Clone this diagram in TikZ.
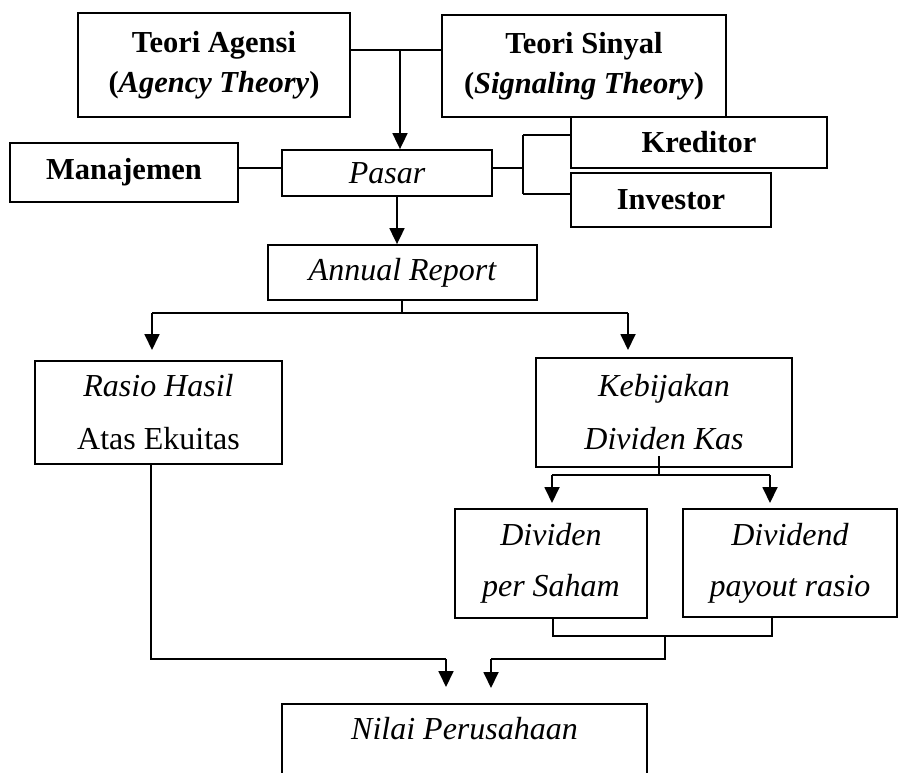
\documentclass[tikz,border=0pt]{standalone}
\usepackage{fontspec}
\setmainfont{Liberation Serif}
\usetikzlibrary{arrows.meta}
\newcommand{\fsB}{\fontsize{30.5}{40}\selectfont}
\newcommand{\fsI}{\fontsize{32}{53}\selectfont}
\begin{document}
\begin{tikzpicture}[x=1pt,y=-1pt,
  box/.style 2 args={draw, line width=1.8pt, inner sep=0pt, align=center,
    minimum width=#1, minimum height=#2},
  conn/.style={line width=1.8pt},
  arr/.style={line width=1.8pt, -{Triangle[length=16pt,width=15pt]}},
  bld/.style={font=\fsB\bfseries},
  itl/.style={font=\fsI\itshape}]
\useasboundingbox (0,0) rectangle (899,772);
\clip (0,0) rectangle (899,772);
% nodes
\node[box={272}{104}, bld] (agensi) at (214,65) {Teori Agensi\\(\textit{Agency Theory})};
\node[box={284}{102}, bld] (sinyal) at (584,66) {Teori Sinyal\\(\textit{Signaling Theory})};
\node[box={228}{59}, bld] (manajemen) at (124,172.5) {Manajemen};
\node[box={210}{46}, itl] (pasar) at (387,173) {Pasar};
\node[box={256}{51}, bld] (kreditor) at (699,142.5) {Kreditor};
\node[box={200}{54}, bld] (investor) at (671,200) {Investor};
\node[box={269}{55}, itl] (annual) at (402.5,272.5) {Annual Report};
\node[box={247}{103}, font=\fsI] (rasio) at (158.5,412.5) {\textit{Rasio Hasil}\\Atas Ekuitas};
\node[box={256}{109}, itl] (kebijakan) at (664,412.5) {Kebijakan\\Dividen Kas};
\node[box={192}{109}, itl, font=\fontsize{32}{51}\selectfont\itshape] (dividen) at (551,563.5) {Dividen\\per Saham};
\node[box={214}{108}, itl, font=\fontsize{32}{51}\selectfont\itshape] (dividend) at (790,563) {Dividend\\payout rasio};
\node[box={365}{100}, font=\fontsize{32}{40}\selectfont\itshape, anchor=north] (nilai) at (464.5,703) {Nilai Perusahaan\\\strut};
% coordinates
\coordinate (t1) at (400,50);
\coordinate (k1) at (523,168);
\coordinate (k2) at (523,135);
\coordinate (k3) at (523,194);
\coordinate (a1) at (402,313);
\coordinate (aL) at (152,313);
\coordinate (aR) at (628,313);
\coordinate (aLt) at (152,350);
\coordinate (aRt) at (628,350);
\coordinate (b1) at (659,475);
\coordinate (bL) at (552,475);
\coordinate (bR) at (770,475);
\coordinate (bLt) at (552,503);
\coordinate (bRt) at (770,503);
\coordinate (c1) at (553,636);
\coordinate (c2) at (772,636);
\coordinate (c3) at (665,636);
\coordinate (c4) at (665,659);
\coordinate (c5) at (491,659);
\coordinate (c6) at (491,688);
\coordinate (r1) at (151,659);
\coordinate (r2) at (446,659);
\coordinate (r3) at (446,687);
% connectors
\draw[conn] (agensi.east |- t1) -- (sinyal.west |- t1);
\draw[arr] (t1) -- (t1 |- pasar.north);
\draw[conn] (manajemen.east |- 0,168) -- (pasar.west |- 0,168);
\draw[conn] (pasar.east |- k1) -- (k1);
\draw[conn] (k2) -- (k3);
\draw[conn] (k2) -- (kreditor.west |- k2);
\draw[conn] (k3) -- (investor.west |- k3);
\draw[arr] (pasar.south -| 397,0) -- (annual.north -| 397,0);
\draw[conn] (annual.south -| a1) -- (a1);
\draw[conn] (aL) -- (aR);
\draw[arr] (aL) -- (aLt);
\draw[arr] (aR) -- (aRt);
\draw[conn] (659,456) -- (b1);
\draw[conn] (bL) -- (bR);
\draw[arr] (bL) -- (bLt);
\draw[arr] (bR) -- (bRt);
\draw[conn] (dividen.south -| c1) -- (c1) -- (c2) -- (dividend.south -| c2);
\draw[conn] (c3) -- (c4) -- (c5);
\draw[arr] (c5) -- (c6);
\draw[conn] (rasio.south -| r1) -- (r1) -- (r2);
\draw[arr] (r2) -- (r3);
\end{tikzpicture}
\end{document}
